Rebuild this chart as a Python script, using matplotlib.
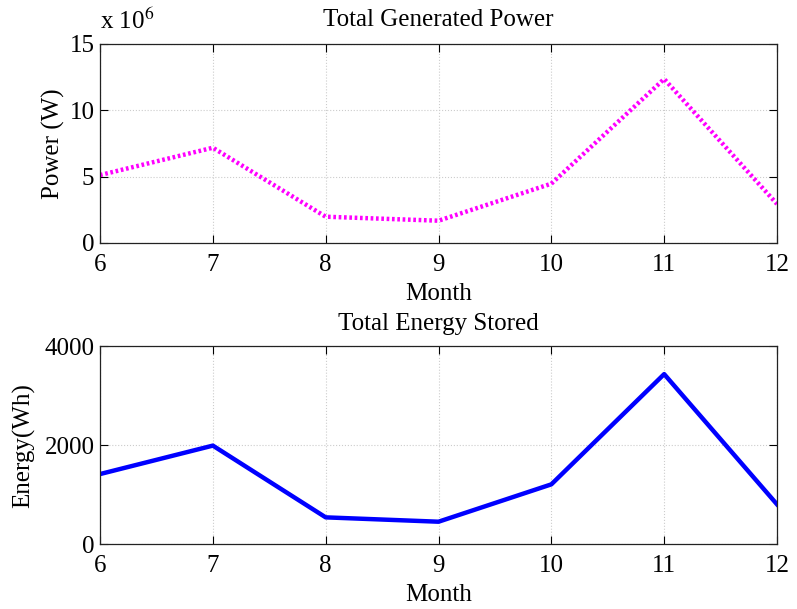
import matplotlib
matplotlib.use("Agg")
from matplotlib import pyplot as plt

months = [6, 7, 8, 9, 10, 11, 12]
power_w = [5.12e6, 7.18e6, 1.98e6, 1.68e6, 4.47e6, 12.36e6, 2.94e6]
energy_wh = [1420, 1995, 545, 457, 1212, 3440, 808]
power_ticks = [0, 5, 10, 15]
energy_ticks = [0, 2000, 4000]

plt.rcParams["font.family"] = ["Liberation Serif", "DejaVu Serif"]
plt.rcParams["font.size"] = 18
plt.rcParams["mathtext.fontset"] = "stix"


def style_axes(ax):
    ax.set_xlim(6, 12)
    ax.set_xticks(months)
    ax.grid(True, color="#cccccc", linestyle=":", linewidth=0.8)
    ax.tick_params(direction="in", top=True, right=True, length=6, width=0.8)
    ax.tick_params(axis="x", pad=8)
    ax.tick_params(axis="y", pad=4)
    for spine in ax.spines.values():
        spine.set_linewidth(0.9)
        spine.set_color("#222222")
    ax.set_xlabel("Month", labelpad=5)


fig = plt.figure(figsize=(7.97, 6.09), dpi=100)
ax1 = fig.add_axes([0.1255, 0.601, 0.8494, 0.3268])
ax2 = fig.add_axes([0.1255, 0.1062, 0.8494, 0.325])

ax1.plot(months, [p / 1e6 for p in power_w], color="#ff00ff", linestyle=(0, (0.6, 0.6)), linewidth=3.2)
ax1.set_ylim(0, 15)
ax1.set_yticks(power_ticks)
ax1.set_ylabel("Power (W)", labelpad=3)
ax1.set_title("Total Generated Power", fontsize=18, pad=13)
ax1.text(0.0, 1.05, r"x 10$^6$", transform=ax1.transAxes, ha="left", va="bottom")
style_axes(ax1)

ax2.plot(months, energy_wh, color="#0000ff", linewidth=3.2)
ax2.set_ylim(0, 4000)
ax2.set_yticks(energy_ticks)
ax2.set_ylabel("Energy(Wh)", labelpad=7)
ax2.set_title("Total Energy Stored", fontsize=18, pad=12)
style_axes(ax2)

fig.savefig("out.png", dpi=100)
